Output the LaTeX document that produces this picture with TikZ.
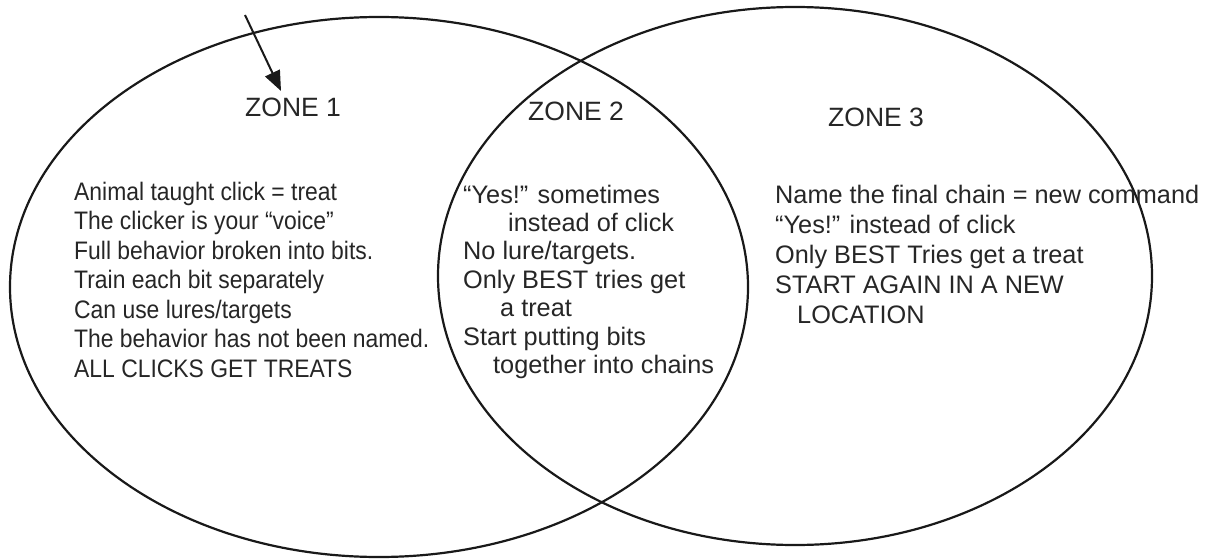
\documentclass[tikz,border=0pt]{standalone}
\usepackage{fontspec}
\setmainfont{Liberation Sans}
\newfontfamily\narrowsans[FakeStretch=0.905]{Liberation Sans}
\usetikzlibrary{arrows.meta,shapes.geometric}
\begin{document}
\begin{tikzpicture}[x=1pt,y=-1pt,
  ring/.style={draw=black!90,line width=2.2pt,ellipse,inner sep=0pt},
  zonelabel/.style={anchor=base west,inner sep=0pt,font=\fontsize{26.5}{30}\selectfont,text=black!85},
  itemlist/.style 2 args={anchor=base west,inner sep=0pt,align=left,font=\fontsize{#1}{#2}\selectfont,text=black!85},
  pointer/.style={draw=black!90,line width=2pt,-{Triangle[length=20pt,width=16pt]}}]
\useasboundingbox (0,0) rectangle (1212,559);
% circles
\node[ring,minimum width=738pt,minimum height=540pt] (left) at (379,287) {};
\node[ring,minimum width=714pt,minimum height=538pt] (right) at (795,276) {};
% zone labels
\node[zonelabel] (z1) at (245,117) {ZONE 1};
\node[zonelabel] (z2) at (528,121) {ZONE 2};
\node[zonelabel] (z3) at (828,127) {ZONE 3};
% lists (anchored on the baseline of the last line)
\node[itemlist={25.3}{29.5},font=\narrowsans\fontsize{25.3}{29.5}\selectfont] (l1) at (74,377) {Animal taught click = treat\\
The clicker is your “voice”\\
Full behavior broken into bits.\\
Train each bit separately\\
Can use lures/targets\\
The behavior has not been named.\\
ALL CLICKS GET TREATS};
\node[itemlist={25.3}{28.4}] (l2) at (463,373.4) {“Yes!” sometimes\\
\hspace*{45pt}instead of click\\
No lure/targets.\\
Only BEST tries get\\
\hspace*{37pt}a treat\\
Start putting bits\\
\hspace*{30pt}together into chains};
\node[itemlist={25.3}{30}] (l3) at (775,323) {Name the final chain = new command\\
“Yes!” instead of click\\
Only BEST Tries get a treat\\
START AGAIN IN A NEW\\
\hspace*{22pt}LOCATION};
% arrow
\coordinate (as) at (245,15);
\coordinate (ae) at (281,91);
\draw[pointer] (as) -- (ae);
\end{tikzpicture}
\end{document}
